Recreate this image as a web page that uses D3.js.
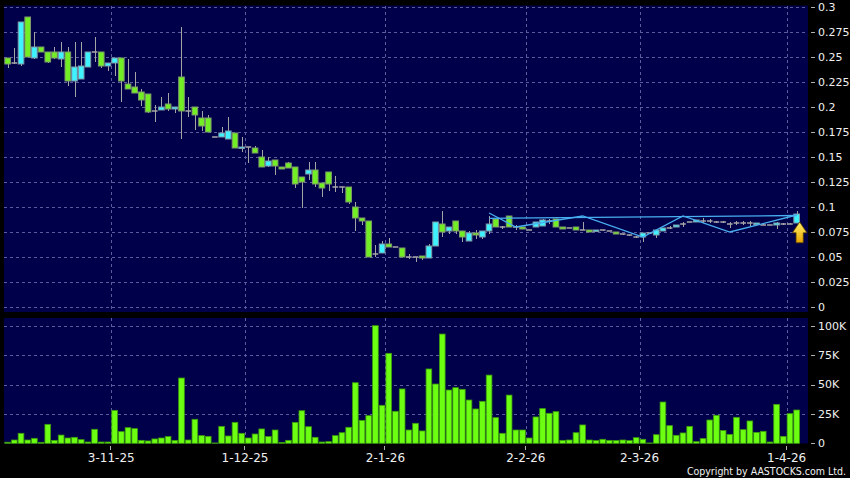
<!DOCTYPE html>
<meta charset="utf-8">
<style>
  body { margin: 0; background: #000; }
  svg { font-family: "DejaVu Sans", sans-serif; display: block; }
</style>
<svg id="chart" width="850" height="478"></svg>
<script src="https://cdn.jsdelivr.net/npm/d3@7"></script>
<script>
// ---------------------------------------------------------------- data
// trading calendar (HK), used only for the category axis
var firstDay = "2025-10-09", lastDay = "2026-04-02";
var holidays = ["2025-10-29", "2025-12-25", "2025-12-26", "2026-01-01",
                "2026-02-17", "2026-02-18", "2026-02-19"];

var opens = [0.249,0.244,0.243,0.29,0.249,0.26,0.255,0.255,0.248,0.255,
  0.226,0.228,0.24,0.255,0.255,0.241,0.244,0.249,0.223,0.22,
  0.215,0.213,0.196,0.197,0.203,0.198,0.23,0.196,0.2,0.189,
  0.189,0.17,0.17,0.168,0.174,0.159,0.16,0.159,0.15,0.141,
  0.147,0.14,0.144,0.14,0.13,0.133,0.137,0.124,0.135,0.12,
  0.12,0.12,0.1,0.089,0.086,0.053,0.054,0.063,0.06,0.059,
  0.05,0.05,0.051,0.049,0.061,0.083,0.076,0.086,0.076,0.066,
  0.074,0.07,0.076,0.088,0.08,0.091,0.08,0.08,0.077,0.08,
  0.081,0.086,0.088,0.08,0.079,0.08,0.077,0.077,0.076,0.077,
  0.076,0.075,0.073,0.072,0.07,0.07,0.074,0.072,0.076,0.079,
  0.08,0.083,0.085,0.085,0.086,0.086,0.085,0.085,0.083,0.084,
  0.084,0.084,0.083,0.082,0.082,0.082,0.083,0.083,0.084];
var highs = [0.249,0.259,0.285,0.29,0.275,0.26,0.255,0.26,0.265,0.26,
  0.265,0.265,0.255,0.27,0.255,0.244,0.249,0.249,0.248,0.235,
  0.218,0.213,0.202,0.21,0.214,0.2,0.28,0.21,0.2,0.196,
  0.192,0.17,0.18,0.19,0.174,0.17,0.16,0.161,0.157,0.15,
  0.147,0.14,0.145,0.14,0.13,0.145,0.145,0.124,0.135,0.131,
  0.12,0.12,0.105,0.089,0.086,0.062,0.066,0.069,0.06,0.059,
  0.053,0.05,0.051,0.063,0.085,0.096,0.08,0.086,0.076,0.076,
  0.077,0.076,0.091,0.088,0.081,0.091,0.082,0.08,0.077,0.085,
  0.088,0.088,0.088,0.08,0.079,0.08,0.085,0.077,0.077,0.077,
  0.076,0.075,0.073,0.072,0.071,0.074,0.075,0.077,0.079,0.081,
  0.082,0.085,0.085,0.087,0.089,0.088,0.086,0.086,0.085,0.086,
  0.086,0.086,0.084,0.083,0.082,0.085,0.084,0.084,0.096];
var lows = [0.239,0.243,0.241,0.25,0.248,0.255,0.244,0.248,0.24,0.221,
  0.21,0.228,0.24,0.245,0.239,0.236,0.231,0.205,0.218,0.214,
  0.201,0.194,0.185,0.197,0.196,0.194,0.168,0.19,0.177,0.176,
  0.175,0.17,0.17,0.168,0.159,0.155,0.144,0.154,0.14,0.14,
  0.132,0.138,0.139,0.119,0.099,0.127,0.12,0.11,0.116,0.115,
  0.114,0.103,0.076,0.082,0.05,0.05,0.054,0.06,0.06,0.05,
  0.048,0.045,0.047,0.049,0.061,0.07,0.073,0.073,0.065,0.066,
  0.068,0.068,0.073,0.08,0.078,0.08,0.077,0.078,0.077,0.08,
  0.081,0.083,0.08,0.078,0.079,0.077,0.077,0.075,0.076,0.076,
  0.076,0.073,0.072,0.071,0.069,0.065,0.073,0.069,0.076,0.078,
  0.08,0.08,0.085,0.085,0.084,0.084,0.084,0.084,0.079,0.082,
  0.082,0.081,0.083,0.082,0.082,0.078,0.082,0.083,0.084];
var closes = [0.243,0.244,0.285,0.25,0.26,0.255,0.245,0.249,0.255,0.226,
  0.24,0.241,0.255,0.255,0.241,0.244,0.249,0.226,0.218,0.214,
  0.207,0.195,0.196,0.2,0.198,0.2,0.196,0.196,0.192,0.181,
  0.175,0.17,0.174,0.176,0.159,0.16,0.16,0.154,0.14,0.146,
  0.141,0.138,0.139,0.123,0.125,0.137,0.123,0.119,0.123,0.12,
  0.12,0.105,0.089,0.086,0.05,0.053,0.063,0.06,0.06,0.05,
  0.05,0.05,0.049,0.061,0.085,0.075,0.08,0.076,0.07,0.074,
  0.072,0.076,0.083,0.08,0.08,0.08,0.08,0.078,0.077,0.085,
  0.087,0.086,0.08,0.078,0.079,0.077,0.077,0.075,0.077,0.077,
  0.076,0.073,0.073,0.072,0.07,0.074,0.074,0.077,0.079,0.079,
  0.082,0.083,0.085,0.087,0.086,0.086,0.085,0.085,0.083,0.084,
  0.084,0.084,0.084,0.082,0.082,0.084,0.083,0.083,0.093];
// volume, thousands of shares
var volumes = [0.9,2.8,8.5,2.8,4.2,0.8,16.1,2.5,7.0,4.5,
  5.1,3.1,1.1,11.9,1.1,1.1,28.0,9.9,13.3,12.5,
  2.5,2.0,3.7,4.5,5.7,2.5,55.5,2.8,20.4,6.5,
  5.9,0.3,14.4,6.2,17.8,8.5,4.5,7.9,12.2,5.7,
  11.3,0.8,2.5,17.8,27.7,14.1,5.1,1.1,1.4,6.5,
  9.0,13.6,51.5,19.5,23.5,100,32.3,76.5,27.2,46.2,
  11.3,17.0,10.5,63.2,50.4,92.9,45.3,47.3,45.9,36.8,
  29.2,35.7,58.0,21.8,8.5,41.0,11.3,11.3,4.5,22.4,
  29.5,25.5,26.9,2.5,2.8,9.0,15.6,2.8,2.3,3.4,
  2.5,2.3,2.8,2.3,4.8,3.4,0.3,7.3,35.1,15.0,
  6.8,8.8,14.4,1.4,4.0,19.8,23.8,10.8,7.6,22.1,
  11.6,19.0,9.3,10.2,1.1,33.1,5.9,25.2,28.3];

// overlay lines (bar index, price)
var zigzagIdx = [72, 76, 86, 95, 101, 108, 118];
var zigzagVal = [0.094, 0.080, 0.091, 0.070, 0.091, 0.075, 0.092];
var trendIdx = [72, 118];
var trendVal = [0.0887, 0.0915];

var monthTicks = ["2025-11-03", "2025-12-01", "2026-01-02", "2026-02-02", "2026-03-02", "2026-04-01"];
var priceTicks = [0, 0.025, 0.05, 0.075, 0.1, 0.125, 0.15, 0.175, 0.2, 0.225, 0.25, 0.275, 0.3];
var volTicks = [0, 25, 50, 75, 100];

// ---------------------------------------------------------------- setup
var svg = d3.select("#chart");
var navy = "#00004a", gridCol = "#5c5c9c";
var L = 4, R = 808;

var days = d3.utcDays(new Date(firstDay), d3.utcDay.offset(new Date(lastDay), 1))
  .filter(function(d) { return d.getUTCDay() % 6 !== 0; })
  .map(function(d) { return d3.utcFormat("%Y-%m-%d")(d); })
  .filter(function(k) { return holidays.indexOf(k) < 0; });

var bars = days.map(function(k, i) {
  return { day: k, o: opens[i], h: highs[i], l: lows[i], c: closes[i], v: volumes[i] };
});

var x = d3.scaleBand().domain(days).range([4.3, 800]).paddingInner(0.16).paddingOuter(0.08);
var slot = function(k) { return x(k) - (x.step() - x.bandwidth()) / 2; };
var cx = function(k) { return x(k) + x.bandwidth() / 2; };
var xi = function(i) { return cx(days[0]) + i * x.step(); };
var y = d3.scaleLinear().domain([0, 0.3]).range([307, 7]);
var yv = d3.scaleLinear().domain([0, 100]).range([443.3, 325.7]);

svg.append("rect").attr("width", 850).attr("height", 478).attr("fill", "#000");

// panels
svg.append("rect").attr("x", L).attr("y", 5.5).attr("width", R - L).attr("height", 306.5).attr("fill", navy);
svg.append("rect").attr("x", L).attr("y", 318).attr("width", R - L).attr("height", 125.5).attr("fill", navy);

// grid
var grid = svg.append("g").attr("stroke", gridCol).attr("stroke-dasharray", "3,3")
  .attr("shape-rendering", "crispEdges");
grid.selectAll(".hp").data(priceTicks).enter().append("line")
  .attr("x1", L).attr("x2", R)
  .attr("y1", function(d) { return Math.round(y(d)) + 0.5; })
  .attr("y2", function(d) { return Math.round(y(d)) + 0.5; });
grid.selectAll(".hv").data(volTicks.filter(function(d) { return d > 0; })).enter().append("line")
  .attr("x1", L).attr("x2", R)
  .attr("y1", function(d) { return Math.round(yv(d)) + 0.5; })
  .attr("y2", function(d) { return Math.round(yv(d)) + 0.5; });
grid.selectAll(".vp").data(monthTicks).enter().append("line")
  .attr("x1", function(d) { return Math.round(slot(d)) + 0.5; })
  .attr("x2", function(d) { return Math.round(slot(d)) + 0.5; })
  .attr("y1", 5.5).attr("y2", 312);
grid.selectAll(".vv").data(monthTicks).enter().append("line")
  .attr("x1", function(d) { return Math.round(slot(d)) + 0.5; })
  .attr("x2", function(d) { return Math.round(slot(d)) + 0.5; })
  .attr("y1", 318).attr("y2", 443);

// candles
var cg = svg.append("g");
cg.selectAll(".wick").data(bars).enter().append("line")
  .attr("x1", function(d) { return Math.round(cx(d.day)) + 0.5; })
  .attr("x2", function(d) { return Math.round(cx(d.day)) + 0.5; })
  .attr("y1", function(d) { return y(d.h); })
  .attr("y2", function(d) { return y(d.l); })
  .attr("stroke", "#a4a4a4").attr("stroke-width", 1);

cg.selectAll(".body").data(bars.filter(function(d) { return d.o !== d.c; })).enter().append("rect")
  .attr("x", function(d) { return x(d.day); })
  .attr("width", x.bandwidth())
  .attr("y", function(d) { return y(Math.max(d.o, d.c)); })
  .attr("height", function(d) { return Math.max(1.5, Math.abs(y(d.o) - y(d.c))); })
  .attr("fill", function(d) { return d.c > d.o ? "#3ef2ff" : "#72ee24"; })
  .attr("stroke", function(d) { return d.c > d.o ? "#7e98a6" : "#7e9a6a"; })
  .attr("stroke-width", 1);

cg.selectAll(".doji").data(bars.filter(function(d) { return d.o === d.c; })).enter().append("line")
  .attr("x1", function(d) { return x(d.day); })
  .attr("x2", function(d) { return x(d.day) + x.bandwidth(); })
  .attr("y1", function(d) { return y(d.c); })
  .attr("y2", function(d) { return y(d.c); })
  .attr("stroke", "#a8a8a8").attr("stroke-width", 1.5);

// overlay lines
var line = d3.line().x(function(d) { return xi(d[0]); }).y(function(d) { return y(d[1]); });
svg.append("path").datum(d3.zip(trendIdx, trendVal)).attr("d", line)
  .attr("fill", "none").attr("stroke", "#48aef0").attr("stroke-width", 1.3);
svg.append("path").datum(d3.zip(zigzagIdx, zigzagVal)).attr("d", line)
  .attr("fill", "none").attr("stroke", "#48aef0").attr("stroke-width", 1.3);

// volume
svg.append("g").selectAll("rect").data(bars).enter().append("rect")
  .attr("x", function(d) { return slot(d.day) + 0.5; })
  .attr("width", x.step() - 1)
  .attr("y", function(d) { return yv(d.v); })
  .attr("height", function(d) { return yv(0) - yv(d.v); })
  .attr("fill", "#6cff12").attr("stroke", "#3c9a0c").attr("stroke-width", 0.8);

// last-price arrow
var last = bars[bars.length - 1];
var ax = cx(last.day) + 3, ay = y(last.l) - 1;
var defs = svg.append("defs");
var grad = defs.append("linearGradient").attr("id", "arr").attr("x1", 0).attr("y1", 0).attr("x2", 0).attr("y2", 1);
grad.append("stop").attr("offset", "0%").attr("stop-color", "#fff06a");
grad.append("stop").attr("offset", "100%").attr("stop-color", "#e8a400");
svg.append("path")
  .attr("d", "M" + ax + "," + ay + " l7.3,10.8 h-3.7 v10 h-7.2 v-10 h-3.7 z")
  .attr("fill", "url(#arr)").attr("stroke", "#5a4000").attr("stroke-width", 0.8);

// right axis
var axisG = svg.append("g").attr("fill", "#f0f0f0").attr("font-size", "11px");
axisG.selectAll(".pt").data(priceTicks).enter().append("line")
  .attr("x1", 811).attr("x2", 815)
  .attr("y1", function(d) { return Math.round(y(d)) + 0.5; })
  .attr("y2", function(d) { return Math.round(y(d)) + 0.5; })
  .attr("stroke", "#b0b0b0");
axisG.selectAll(".pl").data(priceTicks).enter().append("text")
  .attr("x", 818).attr("y", function(d) { return y(d); }).attr("dy", "0.36em")
  .text(function(d) { return String(+d.toFixed(3)); });
axisG.selectAll(".vt").data(volTicks).enter().append("line")
  .attr("x1", 811).attr("x2", 815)
  .attr("y1", function(d) { return Math.round(yv(d)) + 0.5; })
  .attr("y2", function(d) { return Math.round(yv(d)) + 0.5; })
  .attr("stroke", "#b0b0b0");
axisG.selectAll(".vl").data(volTicks).enter().append("text")
  .attr("x", 818).attr("y", function(d) { return yv(d); }).attr("dy", "0.36em")
  .text(function(d) { return d ? d + "K" : "0"; });

// date axis
var fmt = d3.utcFormat("%-d-%-m-%y");
axisG.selectAll(".xt").data(monthTicks).enter().append("line")
  .attr("x1", function(d) { return Math.round(slot(d)) - 0.5; })
  .attr("x2", function(d) { return Math.round(slot(d)) - 0.5; })
  .attr("y1", 446).attr("y2", 450).attr("stroke", "#b0b0b0");
axisG.selectAll(".xl").data(monthTicks).enter().append("text")
  .attr("x", function(d) { return slot(d); }).attr("y", 462)
  .attr("text-anchor", "middle").attr("font-size", "12px")
  .text(function(d) { return fmt(new Date(d)); });

svg.append("text").attr("x", 846).attr("y", 475).attr("text-anchor", "end")
  .attr("fill", "#f0f0f0").attr("font-size", "10.5px")
  .attr("font-family", "'DejaVu Sans Condensed', 'DejaVu Sans', sans-serif")
  .text("Copyright by AASTOCKS.com Ltd.");
</script>
